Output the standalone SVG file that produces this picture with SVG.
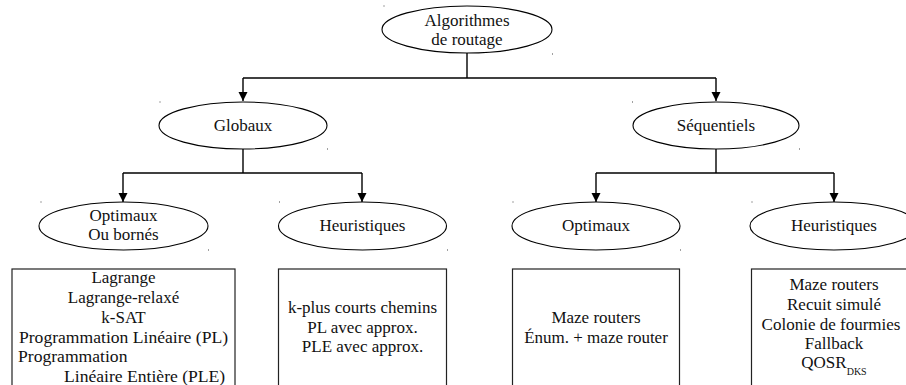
<svg xmlns="http://www.w3.org/2000/svg" width="906" height="385" viewBox="0 0 906 385">
  <defs>
    <marker id="arrow" viewBox="0 0 10 10" refX="10" refY="5" markerWidth="9" markerHeight="10" markerUnits="userSpaceOnUse" orient="auto">
      <path d="M0,0 L10,5 L0,10 Z" fill="#000000"/>
    </marker>
  </defs>

  <rect width="906" height="385" fill="#ffffff"/>

  <!-- connectors -->
  <g id="connectors" fill="none" stroke="#000000" stroke-width="1.4">
    <path d="M467,53 V78"/>
    <path d="M243,78 H716"/>
    <path d="M243,78 V101" marker-end="url(#arrow)"/>
    <path d="M716,78 V101" marker-end="url(#arrow)"/>
    <path d="M243,149 V173"/>
    <path d="M123,173 H362"/>
    <path d="M123,173 V202" marker-end="url(#arrow)"/>
    <path d="M362,173 V202" marker-end="url(#arrow)"/>
    <path d="M716,149 V173"/>
    <path d="M596,173 H834"/>
    <path d="M596,173 V202" marker-end="url(#arrow)"/>
    <path d="M834,173 V202" marker-end="url(#arrow)"/>
  </g>

  <!-- category ellipses -->
  <g fill="#ffffff" stroke="#000000" stroke-width="1.1">
    <g id="root">
      <ellipse cx="467" cy="29.5" rx="85" ry="23.5"/>
      <text x="467" y="26" text-anchor="middle" fill="#111111" stroke="none" style="font-family:'Liberation Serif','Times New Roman',Times,'DejaVu Serif',serif; font-size:17px">Algorithmes</text>
      <text x="467" y="45" text-anchor="middle" fill="#111111" stroke="none" style="font-family:'Liberation Serif','Times New Roman',Times,'DejaVu Serif',serif; font-size:17px">de routage</text>
    </g>

    <g id="globaux">
      <ellipse cx="243" cy="125.5" rx="84" ry="23.5"/>
      <text x="243" y="131" text-anchor="middle" fill="#111111" stroke="none" style="font-family:'Liberation Serif','Times New Roman',Times,'DejaVu Serif',serif; font-size:17px">Globaux</text>
    </g>

    <g id="sequentiels">
      <ellipse cx="716" cy="125.5" rx="83" ry="23.5"/>
      <text x="716" y="131" text-anchor="middle" fill="#111111" stroke="none" style="font-family:'Liberation Serif','Times New Roman',Times,'DejaVu Serif',serif; font-size:17px">Séquentiels</text>
    </g>

    <g id="glob-optimaux">
      <ellipse cx="123.5" cy="226" rx="84.5" ry="24"/>
      <text x="123.5" y="221" text-anchor="middle" fill="#111111" stroke="none" style="font-family:'Liberation Serif','Times New Roman',Times,'DejaVu Serif',serif; font-size:17px">Optimaux</text>
      <text x="123.5" y="240" text-anchor="middle" fill="#111111" stroke="none" style="font-family:'Liberation Serif','Times New Roman',Times,'DejaVu Serif',serif; font-size:17px">Ou bornés</text>
    </g>

    <g id="glob-heuristiques">
      <ellipse cx="362.5" cy="226" rx="84" ry="24"/>
      <text x="362.5" y="231" text-anchor="middle" fill="#111111" stroke="none" style="font-family:'Liberation Serif','Times New Roman',Times,'DejaVu Serif',serif; font-size:17px">Heuristiques</text>
    </g>

    <g id="seq-optimaux">
      <ellipse cx="596" cy="226" rx="84" ry="24"/>
      <text x="596" y="231" text-anchor="middle" fill="#111111" stroke="none" style="font-family:'Liberation Serif','Times New Roman',Times,'DejaVu Serif',serif; font-size:17px">Optimaux</text>
    </g>

    <g id="seq-heuristiques">
      <ellipse cx="834" cy="226" rx="84" ry="24"/>
      <text x="834" y="231" text-anchor="middle" fill="#111111" stroke="none" style="font-family:'Liberation Serif','Times New Roman',Times,'DejaVu Serif',serif; font-size:17px">Heuristiques</text>
    </g>
  </g>

  <!-- method lists -->
  <g fill="#ffffff" stroke="#222222" stroke-width="1.2">
    <g id="list-glob-optimaux">
      <rect x="12" y="269" width="223" height="130"/>
      <text x="123.5" y="283" text-anchor="middle" fill="#111111" stroke="none" style="font-family:'Liberation Serif','Times New Roman',Times,'DejaVu Serif',serif; font-size:17px">Lagrange</text>
      <text x="123.5" y="303" text-anchor="middle" fill="#111111" stroke="none" style="font-family:'Liberation Serif','Times New Roman',Times,'DejaVu Serif',serif; font-size:17px">Lagrange-relaxé</text>
      <text x="123.5" y="322.5" text-anchor="middle" fill="#111111" stroke="none" style="font-family:'Liberation Serif','Times New Roman',Times,'DejaVu Serif',serif; font-size:17px">k-SAT</text>
      <text x="123.5" y="342.5" text-anchor="middle" fill="#111111" stroke="none" style="font-family:'Liberation Serif','Times New Roman',Times,'DejaVu Serif',serif; font-size:17.6px">Programmation Linéaire (PL)</text>
      <text x="18" y="362" fill="#111111" stroke="none" style="font-family:'Liberation Serif','Times New Roman',Times,'DejaVu Serif',serif; font-size:17.6px">Programmation</text>
      <text x="64" y="381.5" fill="#111111" stroke="none" style="font-family:'Liberation Serif','Times New Roman',Times,'DejaVu Serif',serif; font-size:17.6px">Linéaire Entière (PLE)</text>
    </g>

    <g id="list-glob-heuristiques">
      <rect x="278.5" y="269" width="168" height="130"/>
      <text x="362.5" y="313" text-anchor="middle" fill="#111111" stroke="none" style="font-family:'Liberation Serif','Times New Roman',Times,'DejaVu Serif',serif; font-size:17px">k-plus courts chemins</text>
      <text x="362.5" y="332.5" text-anchor="middle" fill="#111111" stroke="none" style="font-family:'Liberation Serif','Times New Roman',Times,'DejaVu Serif',serif; font-size:17px">PL avec approx.</text>
      <text x="362.5" y="352" text-anchor="middle" fill="#111111" stroke="none" style="font-family:'Liberation Serif','Times New Roman',Times,'DejaVu Serif',serif; font-size:17px">PLE avec approx.</text>
    </g>

    <g id="list-seq-optimaux">
      <rect x="512.5" y="269" width="167" height="130"/>
      <text x="596" y="323" text-anchor="middle" fill="#111111" stroke="none" style="font-family:'Liberation Serif','Times New Roman',Times,'DejaVu Serif',serif; font-size:17px">Maze routers</text>
      <text x="596" y="343" text-anchor="middle" fill="#111111" stroke="none" style="font-family:'Liberation Serif','Times New Roman',Times,'DejaVu Serif',serif; font-size:17px">Énum. + maze router</text>
    </g>

    <g id="list-seq-heuristiques">
      <rect x="751.5" y="269" width="168" height="130"/>
      <text x="834" y="290" text-anchor="middle" fill="#111111" stroke="none" style="font-family:'Liberation Serif','Times New Roman',Times,'DejaVu Serif',serif; font-size:17px">Maze routers</text>
      <text x="834" y="310" text-anchor="middle" fill="#111111" stroke="none" style="font-family:'Liberation Serif','Times New Roman',Times,'DejaVu Serif',serif; font-size:17px">Recuit simulé</text>
      <text x="831" y="329.5" text-anchor="middle" fill="#111111" stroke="none" style="font-family:'Liberation Serif','Times New Roman',Times,'DejaVu Serif',serif; font-size:17px">Colonie de fourmies</text>
      <text x="834" y="349" text-anchor="middle" fill="#111111" stroke="none" style="font-family:'Liberation Serif','Times New Roman',Times,'DejaVu Serif',serif; font-size:17px">Fallback</text>
      <text x="834" y="368" text-anchor="middle" fill="#111111" stroke="none" style="font-family:'Liberation Serif','Times New Roman',Times,'DejaVu Serif',serif; font-size:17px">QOSR<tspan dy="7" style="font-size:10px">DKS</tspan></text>
    </g>
  </g>

  <!-- small corner specks -->
  <g id="specks" fill="#444444">
    <rect x="383.5" y="5.5" width="1" height="1"/>
    <rect x="552" y="53.5" width="1" height="1"/>
    <rect x="159.5" y="101.5" width="1" height="1"/>
    <rect x="327" y="148.5" width="1" height="1"/>
    <rect x="632" y="101.5" width="1" height="1"/>
    <rect x="799" y="148.5" width="1" height="1"/>
    <rect x="40.5" y="201.5" width="1" height="1"/>
    <rect x="208" y="249.5" width="1" height="1"/>
    <rect x="279" y="201.5" width="1" height="1"/>
    <rect x="447" y="249.5" width="1" height="1"/>
    <rect x="512.5" y="201.5" width="1" height="1"/>
    <rect x="680" y="249.5" width="1" height="1"/>
    <rect x="751.5" y="201.5" width="1" height="1"/>
  </g>
</svg>
